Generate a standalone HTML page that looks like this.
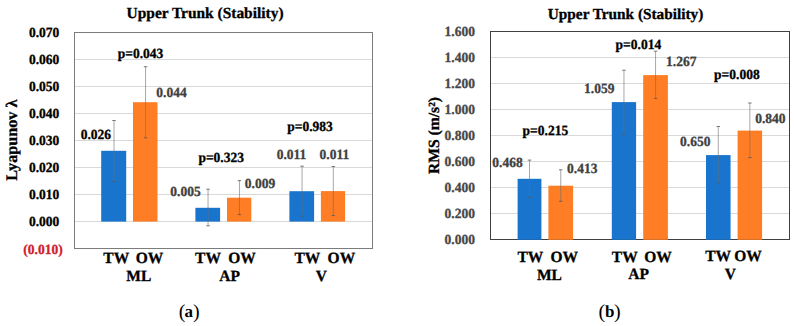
<!DOCTYPE html>
<html><head><meta charset="utf-8"><style>
html,body{margin:0;padding:0;background:#fff;width:794px;height:326px;overflow:hidden}
svg{display:block;font-family:"Liberation Serif",serif;text-rendering:geometricPrecision}
text[font-weight=bold]{stroke:currentColor;stroke-width:0.3;paint-order:fill}
</style></head><body><div id="w">
<svg width="794" height="326" viewBox="0 0 794 326" shape-rendering="auto">
<g>
<rect width="794" height="326" fill="#fff"/>
<text x="126.60" y="17.90" font-size="15.45" font-weight="bold" fill="#000" style="color:#000">Upper Trunk (Stability)</text>
<rect x="74.00" y="59.00" width="299.00" height="1.00" fill="#d9d9d9"/>
<rect x="74.00" y="86.00" width="299.00" height="1.00" fill="#d9d9d9"/>
<rect x="74.00" y="113.00" width="299.00" height="1.00" fill="#d9d9d9"/>
<rect x="74.00" y="140.00" width="299.00" height="1.00" fill="#d9d9d9"/>
<rect x="74.00" y="167.00" width="299.00" height="1.00" fill="#d9d9d9"/>
<rect x="74.00" y="194.00" width="299.00" height="1.00" fill="#d9d9d9"/>
<rect x="74.00" y="221.00" width="299.00" height="1.00" fill="#d9d9d9"/>
<text transform="translate(28.90,37.00) scale(0.965,1)" font-size="14" font-weight="bold" fill="#000" style="color:#000">0.070</text>
<text transform="translate(28.90,64.00) scale(0.965,1)" font-size="14" font-weight="bold" fill="#000" style="color:#000">0.060</text>
<text transform="translate(28.90,91.00) scale(0.965,1)" font-size="14" font-weight="bold" fill="#000" style="color:#000">0.050</text>
<text transform="translate(28.90,118.00) scale(0.965,1)" font-size="14" font-weight="bold" fill="#000" style="color:#000">0.040</text>
<text transform="translate(28.90,145.00) scale(0.965,1)" font-size="14" font-weight="bold" fill="#000" style="color:#000">0.030</text>
<text transform="translate(28.90,172.00) scale(0.965,1)" font-size="14" font-weight="bold" fill="#000" style="color:#000">0.020</text>
<text transform="translate(28.90,199.00) scale(0.965,1)" font-size="14" font-weight="bold" fill="#000" style="color:#000">0.010</text>
<text transform="translate(28.90,226.00) scale(0.965,1)" font-size="14" font-weight="bold" fill="#000" style="color:#000">0.000</text>
<text transform="translate(23.32,253.50) scale(0.965,1)" font-size="14" font-weight="bold" fill="#d0202a" style="color:#d0202a">(0.010)</text>
<rect x="74.00" y="32.00" width="299.00" height="1.00" fill="#7c7c7c"/>
<rect x="74.00" y="248.00" width="299.00" height="1.00" fill="#7c7c7c"/>
<rect x="74.00" y="32.00" width="1.00" height="217.00" fill="#7c7c7c"/>
<rect x="372.00" y="32.00" width="1.00" height="217.00" fill="#7c7c7c"/>
<rect x="101.20" y="150.80" width="25.00" height="70.80" fill="#1874cc"/>
<rect x="133.00" y="102.20" width="24.50" height="119.40" fill="#ff7d24"/>
<rect x="195.40" y="207.80" width="24.70" height="13.80" fill="#1874cc"/>
<rect x="227.00" y="197.70" width="24.30" height="23.90" fill="#ff7d24"/>
<rect x="289.40" y="191.20" width="24.70" height="30.40" fill="#1874cc"/>
<rect x="320.90" y="191.10" width="24.20" height="30.50" fill="#ff7d24"/>
<rect x="113.50" y="120.50" width="1.00" height="61.00" fill="rgba(110,110,110,0.6)"/>
<rect x="112.25" y="120.00" width="3.50" height="1.00" fill="rgba(90,90,90,0.8)"/>
<rect x="112.25" y="181.00" width="3.50" height="1.00" fill="rgba(90,90,90,0.8)"/>
<rect x="145.05" y="66.70" width="1.00" height="71.10" fill="rgba(110,110,110,0.6)"/>
<rect x="143.80" y="66.20" width="3.50" height="1.00" fill="rgba(90,90,90,0.8)"/>
<rect x="143.80" y="137.30" width="3.50" height="1.00" fill="rgba(90,90,90,0.8)"/>
<rect x="207.55" y="189.20" width="1.00" height="36.60" fill="rgba(110,110,110,0.6)"/>
<rect x="206.30" y="188.70" width="3.50" height="1.00" fill="rgba(90,90,90,0.8)"/>
<rect x="206.30" y="225.30" width="3.50" height="1.00" fill="rgba(90,90,90,0.8)"/>
<rect x="238.95" y="180.60" width="1.00" height="34.00" fill="rgba(110,110,110,0.6)"/>
<rect x="237.70" y="180.10" width="3.50" height="1.00" fill="rgba(90,90,90,0.8)"/>
<rect x="237.70" y="214.10" width="3.50" height="1.00" fill="rgba(90,90,90,0.8)"/>
<rect x="301.55" y="166.20" width="1.00" height="50.00" fill="rgba(110,110,110,0.6)"/>
<rect x="300.30" y="165.70" width="3.50" height="1.00" fill="rgba(90,90,90,0.8)"/>
<rect x="300.30" y="215.70" width="3.50" height="1.00" fill="rgba(90,90,90,0.8)"/>
<rect x="332.80" y="166.50" width="1.00" height="49.00" fill="rgba(110,110,110,0.6)"/>
<rect x="331.55" y="166.00" width="3.50" height="1.00" fill="rgba(90,90,90,0.8)"/>
<rect x="331.55" y="215.00" width="3.50" height="1.00" fill="rgba(90,90,90,0.8)"/>
<text transform="translate(80.65,138.90) scale(0.965,1)" font-size="14" font-weight="bold" fill="#000" style="color:#000">0.026</text>
<text transform="translate(156.25,96.60) scale(0.965,1)" font-size="14" font-weight="bold" fill="#404040" style="color:#404040">0.044</text>
<text transform="translate(170.30,196.00) scale(0.965,1)" font-size="14" font-weight="bold" fill="#404040" style="color:#404040">0.005</text>
<text transform="translate(244.80,188.00) scale(0.965,1)" font-size="14" font-weight="bold" fill="#404040" style="color:#404040">0.009</text>
<text transform="translate(276.66,158.60) scale(0.965,1)" font-size="14" font-weight="bold" fill="#404040" style="color:#404040">0.011</text>
<text transform="translate(319.61,158.60) scale(0.965,1)" font-size="14" font-weight="bold" fill="#404040" style="color:#404040">0.011</text>
<text transform="translate(117.70,57.80) scale(0.965,1)" font-size="14" font-weight="bold" fill="#000" style="color:#000">p=0.043</text>
<text transform="translate(198.40,162.30) scale(0.965,1)" font-size="14" font-weight="bold" fill="#000" style="color:#000">p=0.323</text>
<text transform="translate(287.25,130.60) scale(0.965,1)" font-size="14" font-weight="bold" fill="#000" style="color:#000">p=0.983</text>
<text x="103.30" y="263.40" font-size="15.5" font-weight="bold" fill="#000" style="color:#000">TW</text>
<text x="135.80" y="263.40" font-size="15.5" font-weight="bold" fill="#000" style="color:#000">OW</text>
<text x="126.30" y="281.40" font-size="15.5" font-weight="bold" fill="#000" style="color:#000">ML</text>
<text x="195.10" y="263.20" font-size="15.5" font-weight="bold" fill="#000" style="color:#000">TW</text>
<text x="228.20" y="263.20" font-size="15.5" font-weight="bold" fill="#000" style="color:#000">OW</text>
<text x="219.30" y="281.10" font-size="15.5" font-weight="bold" fill="#000" style="color:#000">AP</text>
<text x="294.40" y="263.20" font-size="15.5" font-weight="bold" fill="#000" style="color:#000">TW</text>
<text x="327.60" y="263.20" font-size="15.5" font-weight="bold" fill="#000" style="color:#000">OW</text>
<text x="315.80" y="281.10" font-size="15.5" font-weight="bold" fill="#000" style="color:#000">V</text>
<text transform="translate(17.2,140.2) rotate(-90)" text-anchor="middle" font-size="16.2" font-weight="bold" fill="#000">Lyapunov λ</text>
<text x="178.8" y="317.2" font-size="17" fill="#000"><tspan font-size="20" dy="1">(</tspan><tspan font-weight="bold" dy="-1" dx="-1.0">a</tspan><tspan font-size="20" dy="1" dx="0.0">)</tspan></text>
<text x="547.80" y="19.20" font-size="15.3" font-weight="bold" fill="#000" style="color:#000">Upper Trunk (Stability)</text>
<rect x="490.00" y="57.00" width="300.00" height="1.00" fill="#d9d9d9"/>
<rect x="490.00" y="83.00" width="300.00" height="1.00" fill="#d9d9d9"/>
<rect x="490.00" y="109.00" width="300.00" height="1.00" fill="#d9d9d9"/>
<rect x="490.00" y="135.00" width="300.00" height="1.00" fill="#d9d9d9"/>
<rect x="490.00" y="161.00" width="300.00" height="1.00" fill="#d9d9d9"/>
<rect x="490.00" y="187.00" width="300.00" height="1.00" fill="#d9d9d9"/>
<rect x="490.00" y="213.00" width="300.00" height="1.00" fill="#d9d9d9"/>
<text transform="translate(444.60,36.10) scale(0.965,1)" font-size="14" font-weight="bold" fill="#474747" style="color:#474747">1.600</text>
<text transform="translate(444.60,62.10) scale(0.965,1)" font-size="14" font-weight="bold" fill="#474747" style="color:#474747">1.400</text>
<text transform="translate(444.60,88.10) scale(0.965,1)" font-size="14" font-weight="bold" fill="#474747" style="color:#474747">1.200</text>
<text transform="translate(444.60,114.10) scale(0.965,1)" font-size="14" font-weight="bold" fill="#474747" style="color:#474747">1.000</text>
<text transform="translate(444.60,140.10) scale(0.965,1)" font-size="14" font-weight="bold" fill="#474747" style="color:#474747">0.800</text>
<text transform="translate(444.60,166.10) scale(0.965,1)" font-size="14" font-weight="bold" fill="#474747" style="color:#474747">0.600</text>
<text transform="translate(444.60,192.10) scale(0.965,1)" font-size="14" font-weight="bold" fill="#474747" style="color:#474747">0.400</text>
<text transform="translate(444.60,218.10) scale(0.965,1)" font-size="14" font-weight="bold" fill="#474747" style="color:#474747">0.200</text>
<text transform="translate(444.60,244.10) scale(0.965,1)" font-size="14" font-weight="bold" fill="#474747" style="color:#474747">0.000</text>
<rect x="490.00" y="31.00" width="300.00" height="1.00" fill="#404040"/>
<rect x="490.00" y="239.00" width="300.00" height="1.00" fill="#404040"/>
<rect x="490.00" y="31.00" width="1.00" height="209.00" fill="#404040"/>
<rect x="789.00" y="31.00" width="1.00" height="209.00" fill="#404040"/>
<rect x="517.60" y="178.80" width="23.80" height="61.00" fill="#1874cc"/>
<rect x="548.40" y="185.70" width="24.70" height="54.10" fill="#ff7d24"/>
<rect x="611.80" y="102.10" width="24.30" height="137.70" fill="#1874cc"/>
<rect x="643.20" y="75.10" width="24.70" height="164.70" fill="#ff7d24"/>
<rect x="706.00" y="155.10" width="24.55" height="84.70" fill="#1874cc"/>
<rect x="737.60" y="130.60" width="24.50" height="109.20" fill="#ff7d24"/>
<rect x="529.00" y="160.10" width="1.00" height="37.10" fill="rgba(110,110,110,0.6)"/>
<rect x="527.75" y="159.60" width="3.50" height="1.00" fill="rgba(90,90,90,0.8)"/>
<rect x="527.75" y="196.70" width="3.50" height="1.00" fill="rgba(90,90,90,0.8)"/>
<rect x="560.25" y="169.80" width="1.00" height="31.50" fill="rgba(110,110,110,0.6)"/>
<rect x="559.00" y="169.30" width="3.50" height="1.00" fill="rgba(90,90,90,0.8)"/>
<rect x="559.00" y="200.80" width="3.50" height="1.00" fill="rgba(90,90,90,0.8)"/>
<rect x="623.45" y="70.20" width="1.00" height="63.80" fill="rgba(110,110,110,0.6)"/>
<rect x="622.20" y="69.70" width="3.50" height="1.00" fill="rgba(90,90,90,0.8)"/>
<rect x="622.20" y="133.50" width="3.50" height="1.00" fill="rgba(90,90,90,0.8)"/>
<rect x="655.05" y="51.20" width="1.00" height="47.20" fill="rgba(110,110,110,0.6)"/>
<rect x="653.80" y="50.70" width="3.50" height="1.00" fill="rgba(90,90,90,0.8)"/>
<rect x="653.80" y="97.90" width="3.50" height="1.00" fill="rgba(90,90,90,0.8)"/>
<rect x="717.77" y="126.50" width="1.00" height="56.10" fill="rgba(110,110,110,0.6)"/>
<rect x="716.52" y="126.00" width="3.50" height="1.00" fill="rgba(90,90,90,0.8)"/>
<rect x="716.52" y="182.10" width="3.50" height="1.00" fill="rgba(90,90,90,0.8)"/>
<rect x="749.35" y="103.00" width="1.00" height="54.60" fill="rgba(110,110,110,0.6)"/>
<rect x="748.10" y="102.50" width="3.50" height="1.00" fill="rgba(90,90,90,0.8)"/>
<rect x="748.10" y="157.10" width="3.50" height="1.00" fill="rgba(90,90,90,0.8)"/>
<text transform="translate(492.25,166.90) scale(0.965,1)" font-size="14" font-weight="bold" fill="#404040" style="color:#404040">0.468</text>
<text transform="translate(567.00,172.80) scale(0.965,1)" font-size="14" font-weight="bold" fill="#404040" style="color:#404040">0.413</text>
<text transform="translate(584.10,92.90) scale(0.965,1)" font-size="14" font-weight="bold" fill="#404040" style="color:#404040">1.059</text>
<text transform="translate(666.10,66.40) scale(0.965,1)" font-size="14" font-weight="bold" fill="#404040" style="color:#404040">1.267</text>
<text transform="translate(680.10,146.10) scale(0.965,1)" font-size="14" font-weight="bold" fill="#404040" style="color:#404040">0.650</text>
<text transform="translate(755.20,122.50) scale(0.965,1)" font-size="14" font-weight="bold" fill="#404040" style="color:#404040">0.840</text>
<text transform="translate(522.55,134.80) scale(0.965,1)" font-size="14" font-weight="bold" fill="#000" style="color:#000">p=0.215</text>
<text transform="translate(615.60,48.50) scale(0.965,1)" font-size="14" font-weight="bold" fill="#000" style="color:#000">p=0.014</text>
<text transform="translate(714.10,78.70) scale(0.965,1)" font-size="14" font-weight="bold" fill="#000" style="color:#000">p=0.008</text>
<text x="517.40" y="261.70" font-size="15.5" font-weight="bold" fill="#000" style="color:#000">TW</text>
<text x="550.40" y="261.70" font-size="15.5" font-weight="bold" fill="#000" style="color:#000">OW</text>
<text x="536.90" y="279.50" font-size="15.5" font-weight="bold" fill="#000" style="color:#000">ML</text>
<text x="611.80" y="261.50" font-size="15.5" font-weight="bold" fill="#000" style="color:#000">TW</text>
<text x="644.20" y="261.50" font-size="15.5" font-weight="bold" fill="#000" style="color:#000">OW</text>
<text x="628.20" y="279.40" font-size="15.5" font-weight="bold" fill="#000" style="color:#000">AP</text>
<text x="705.20" y="261.40" font-size="15.5" font-weight="bold" fill="#000" style="color:#000">TW</text>
<text x="734.30" y="261.40" font-size="15.5" font-weight="bold" fill="#000" style="color:#000">OW</text>
<text x="724.70" y="279.00" font-size="15.5" font-weight="bold" fill="#000" style="color:#000">V</text>
<text transform="translate(438.5,135.5) rotate(-90)" text-anchor="middle" font-size="15.6" font-weight="bold" fill="#000">RMS (m/s²)</text>
<text x="598.6" y="317.1" font-size="17" fill="#000"><tspan font-size="20" dy="1">(</tspan><tspan font-weight="bold" dy="-1" dx="-0.3">b</tspan><tspan font-size="20" dy="1" dx="-0.4">)</tspan></text>
</g>
</svg></div></body></html>
